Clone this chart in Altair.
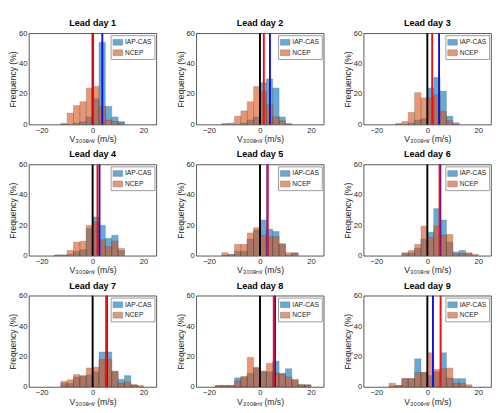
import altair as alt
import pandas as pd

# ---- data (frequency in %, bin width 2.5 m/s) ----
leads = ["Lead day 1", "Lead day 2", "Lead day 3", "Lead day 4", "Lead day 5",
         "Lead day 6", "Lead day 7", "Lead day 8", "Lead day 9"]
bin_width = 2.5
bin_start = [-12.5, -15, -12.5, -15, -15, -10, -12.5, -17.5, -15]

iap_day1 = [0.5, 0, 1, 2, 5, 17, 54, 12, 5, 2]
ncep_day1 = [0.5, 7.5, 12.5, 15, 24, 25, 12, 3, 2, 1]
iap_day2 = [0.5, 0, 0, 1, 3, 5, 27.5, 30, 24, 5, 0.5]
ncep_day2 = [0.5, 1, 5.5, 9, 15, 25, 21.5, 13, 5, 2.5, 0.5]
iap_day3 = [0.5, 0, 1, 3, 4, 24, 31, 22, 5.5, 1.2]
ncep_day3 = [0.5, 2, 8, 21, 17.5, 17.5, 19.5, 8.5, 2.5, 0]
iap_day4 = [0.5, 0.5, 1, 3, 4, 18, 25.5, 20, 11.5, 13.5, 3.5]
ncep_day4 = [0.5, 0.5, 3.5, 9, 9.5, 20, 22, 10.5, 6, 9.5, 4.8]
iap_day5 = [0.5, 0.8, 3, 3, 11, 17, 23.5, 17.5, 16, 7.5, 0.5, 2]
ncep_day5 = [2, 0.8, 7.5, 7.5, 15, 18.5, 13.5, 12.5, 12.5, 8, 2, 1.5]
iap_day6 = [1.5, 2, 5, 11, 15.5, 31, 23.5, 9, 2.5, 3.5, 1.5, 0]
ncep_day6 = [2, 3.5, 7.5, 19.5, 12, 19.5, 13.5, 14, 1, 1.5, 2, 1]
iap_day7 = [2.5, 2.5, 6.5, 7, 8, 10, 23, 23, 10, 5, 7.5, 1.4, 0]
ncep_day7 = [3.7, 4.7, 8.2, 7.5, 12.5, 13, 18, 18, 10.5, 2.5, 3.3, 1.4, 1]
iap_day8 = [1, 1, 1, 6, 6.5, 9, 12.5, 10, 10, 17, 9, 12, 4.5, 1.5, 1.4]
ncep_day8 = [1, 1, 1, 4, 7, 19.5, 13, 10.5, 15.5, 9, 8.5, 6.5, 5, 1.5, 1.4]
iap_day9 = [0.5, 1, 5.5, 5.5, 18.5, 9.5, 7.5, 10, 22.5, 6, 5.5, 5.5, 0]
ncep_day9 = [2.5, 1, 5.5, 5.5, 9.5, 9.5, 22.5, 11.5, 12, 12.5, 2.5, 2.5, 1.5]

iap_mean = [3.8, 3.9, 4.6, 2.7, 2.9, 5.1, 5.6, 5.9, 2.2]
ncep_mean = [0.2, 1.5, 1.9, 1.9, 3.0, 4.8, 5.3, 5.4, 5.2]

series_names = ["IAP-CAS", "NCEP"]
series_colors = ["#0072BD", "#D95319"]
x_ticks = [-20, -10, 0, 10, 20]
y_ticks = [0, 20, 40, 60]

iap_all = [iap_day1, iap_day2, iap_day3, iap_day4, iap_day5, iap_day6, iap_day7, iap_day8, iap_day9]
ncep_all = [ncep_day1, ncep_day2, ncep_day3, ncep_day4, ncep_day5, ncep_day6, ncep_day7, ncep_day8, ncep_day9]

FONT = "Liberation Sans"
W, H = 134, 96

panels = []
for i, lead in enumerate(leads):
    rows = []
    for name, vals in ((series_names[0], iap_all[i]), (series_names[1], ncep_all[i])):
        for k, v in enumerate(vals):
            s = bin_start[i] + k * bin_width
            rows.append({"series": name, "x0": s, "x1": s + bin_width, "freq": v, "base": 0})
    df = pd.DataFrame(rows)

    bars = alt.Chart(df).mark_bar(
        opacity=0.6, stroke="#1a1a1a", strokeWidth=0.5, strokeOpacity=0.7, clip=True
    ).encode(
        x=alt.X("x0:Q", scale=alt.Scale(domain=[-25, 25], nice=False),
                axis=alt.Axis(values=x_ticks, title="V₃₀₀ₑₙᵥ (m/s)")),
        x2="x1:Q",
        y=alt.Y("freq:Q", stack=None, scale=alt.Scale(domain=[0, 60], nice=False),
                axis=alt.Axis(values=y_ticks, title="Frequency (%)")),
        y2="base:Q",
        color=alt.Color("series:N",
                        scale=alt.Scale(domain=series_names, range=series_colors),
                        sort=series_names,
                        legend=alt.Legend(title=None, orient="top-right", offset=2,
                                          padding=2, fillColor="white", strokeColor="#9a9a9a",
                                          labelFontSize=7, labelFont=FONT, labelColor="#1a1a1a",
                                          symbolType="M-1,-0.6H1V0.6H-1Z", symbolSize=100,
                                          symbolOpacity=0.6, symbolStrokeColor="#1a1a1a",
                                          symbolStrokeWidth=0.5, rowPadding=1, labelOffset=2)),
    )

    zero = alt.Chart(pd.DataFrame({"v": [0]})).mark_rule(color="black", strokeWidth=2).encode(x="v:Q")
    blue = alt.Chart(pd.DataFrame({"v": [iap_mean[i]]})).mark_rule(color="#1010e0", strokeWidth=2).encode(x="v:Q")
    red = alt.Chart(pd.DataFrame({"v": [ncep_mean[i]]})).mark_rule(color="#f01010", strokeWidth=2).encode(x="v:Q")

    panel = alt.layer(bars, zero, blue, red).properties(
        width=W, height=H,
        title=alt.Title(lead, fontSize=9.5, fontWeight="bold", font=FONT, offset=2, color="black"),
    )
    panels.append(panel)

chart = alt.concat(*panels, columns=3, spacing=alt.RowColnumber(row=5, column=19)).resolve_scale(
    color="independent"
).resolve_legend(color="independent").configure_view(
    stroke="#262626", strokeWidth=0.8
).configure_axis(
    grid=False, domain=False, ticks=False, labelPadding=2,
    labelFont=FONT, labelFontSize=8, labelColor="#262626",
    titleFont=FONT, titleFontSize=9, titleFontWeight="normal", titleColor="#262626",
    titlePadding=1,
).properties(padding=0)

chart.save("out.html", embed_options={"renderer": "svg", "actions": False})
